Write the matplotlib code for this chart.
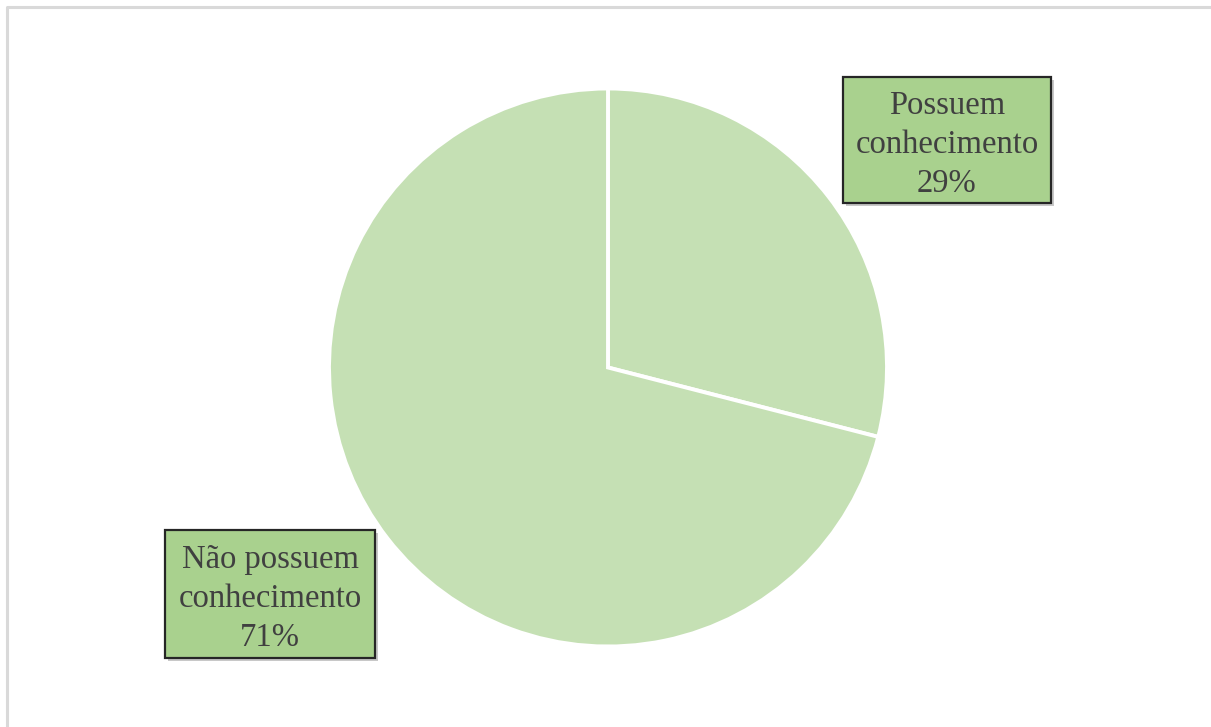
import matplotlib
matplotlib.use("Agg")
import matplotlib.pyplot as plt
from matplotlib.patches import Rectangle

# Survey result: share of respondents with / without knowledge
categories = ["Possuem\nconhecimento", "Não possuem\nconhecimento"]
shares = [29, 71]

W, H = 1211, 727
fig = plt.figure(figsize=(W / 100, H / 100), dpi=100)
ax = fig.add_axes([0, 0, 1, 1])
ax.set_xlim(0, W)
ax.set_ylim(0, H)
ax.set_aspect("equal")
ax.axis("off")

# light frame along the top and left edges
ax.plot([7, 7, W], [0, H - 7, H - 7], color="#d9d9d9", lw=2.2, solid_capstyle="butt")

cx, cy, r = 608, H - 367.5, 279
wedges, _ = ax.pie(shares, startangle=90, counterclock=False, center=(cx, cy), radius=r,
                   colors=["#c5e0b4", "#c5e0b4"],
                   wedgeprops=dict(edgecolor="white", linewidth=2.8))
ax.set_xlim(0, W)
ax.set_ylim(0, H)

# label boxes: (left, top, width, height) in pixels
boxes = [(843, 77, 208, 126), (165, 530, 210, 128)]
for (x0, y0, bw, bh), cat, val in zip(boxes, categories, shares):
    yb = H - y0 - bh
    ax.add_patch(Rectangle((x0 + 3, yb - 3), bw, bh, facecolor="#c8c8c8", edgecolor="none", zorder=3))
    ax.add_patch(Rectangle((x0, yb), bw, bh, facecolor="#a9d18e", edgecolor="#262626", lw=1.6, zorder=4))
    ax.text(x0 + bw / 2, yb + bh / 2 - 5, f"{cat}\n{val}%", ha="center", va="center",
            fontsize=23.5, family="Liberation Serif", color="#404040", linespacing=1.37, zorder=5)

fig.savefig("out.png", dpi=100)
